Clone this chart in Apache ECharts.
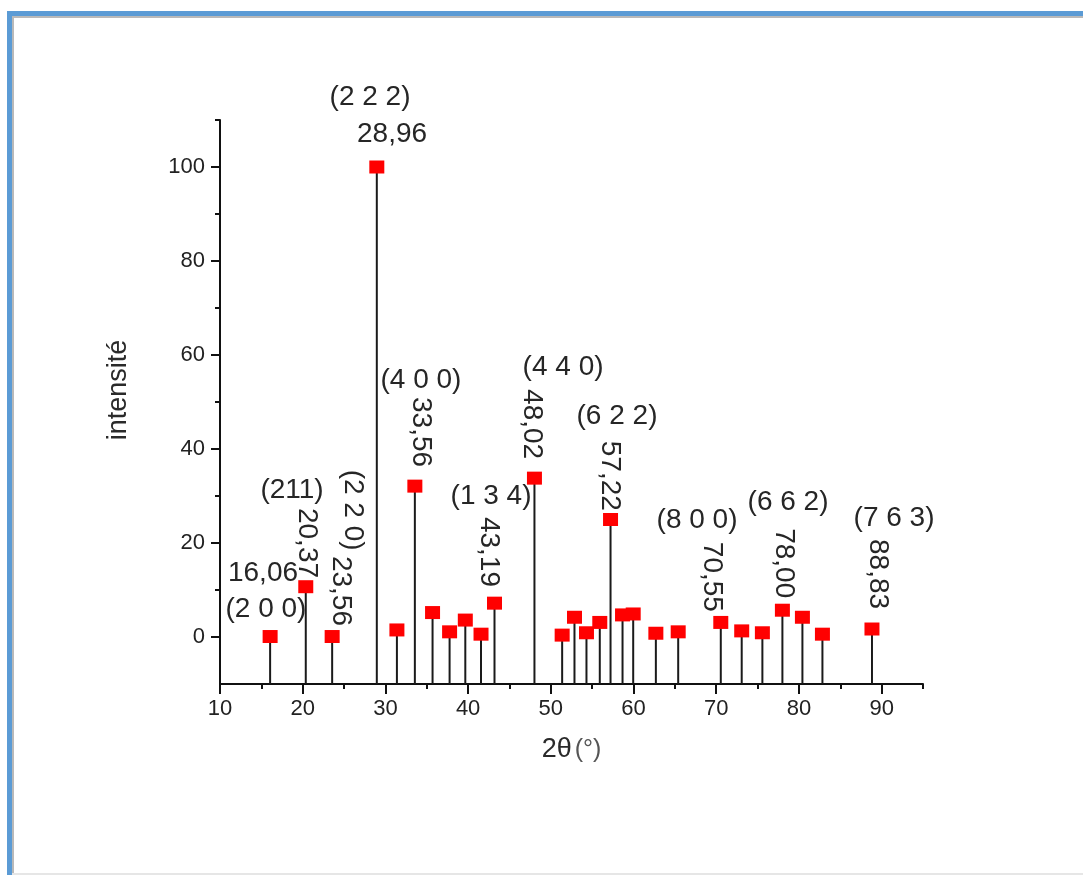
<!DOCTYPE html>
<html>
<head>
<meta charset="utf-8">
<title>intensité — 2θ</title>
<script src="https://cdn.jsdelivr.net/npm/echarts@6/dist/echarts.min.js"></script>
<style>
  html, body { margin: 0; padding: 0; background: #ffffff; }
  #chart { width: 1083px; height: 875px; }
</style>
</head>
<body>
<div id="chart"></div>
<script>
// Diffraction peaks: position 2θ (°) and relative intensity
const twoTheta = [16.06, 20.37, 23.56, 28.96, 31.39, 33.56, 35.70, 37.76, 39.66, 41.56,
                  43.19, 48.02, 51.37, 52.86, 54.31, 55.92, 57.22, 58.67, 59.96, 62.70,
                  65.40, 70.55, 73.08, 75.58, 78.00, 80.42, 82.84, 88.83];
const intensity = [0.1, 10.7, 0.1, 100, 1.5, 32.1, 5.2, 1.1, 3.6, 0.6,
                   7.2, 33.8, 0.4, 4.2, 0.9, 3.1, 25.0, 4.7, 4.9, 0.8,
                   1.1, 3.1, 1.3, 0.9, 5.7, 4.2, 0.6, 1.7];

// Axis ticks
const xMajorTicks = [10, 20, 30, 40, 50, 60, 70, 80, 90];
const xMinorTicks = [15, 25, 35, 45, 55, 65, 75, 85, 95];
const yMajorTicks = [0, 20, 40, 60, 80, 100];
const yMinorTicks = [10, 30, 50, 70, 90, 110];
const X_MIN = 10, X_MAX = 95, Y_MIN = -10, Y_MAX = 110;

// Peak annotations (Miller indices and peak positions)
const annoText = ['(2 2 2)', '28,96', '(4 0 0)', '33,56', '(211)', '20,37', '(2 2 0)', '23,56',
                  '16,06', '(2 0 0)', '(1 3 4)', '43,19', '(4 4 0)', '48,02', '(6 2 2)', '57,22',
                  '(8 0 0)', '70,55', '(6 6 2)', '78,00', '(7 6 3)', '88,83'];
// anchor of each annotation, in axis units
const annoX = [28.14, 30.80, 34.30, 34.30, 18.71, 20.52, 26.08, 24.63,
               15.20, 15.56, 42.77, 42.53, 51.48, 47.73, 58.00, 57.16,
               67.68, 69.49, 78.68, 78.20, 91.50, 89.56];
const annoY = [114.9, 107.0, 54.7, 43.6, 31.3, 20.0, 27.0, 9.8,
               13.6, 6.0, 30.0, 18.1, 57.4, 45.3, 47.0, 34.3,
               24.9, 12.8, 28.7, 15.7, 25.3, 13.4];
const annoVertical = [false, false, false, true, false, true, true, true,
                      false, false, false, true, false, true, false, true,
                      false, true, false, true, false, true];

const FONT = '"Liberation Sans", Arial, sans-serif';
const peaks = twoTheta.map((t, i) => [t, intensity[i]]);
const annotations = annoText.map((txt, i) => ({
  name: txt,
  value: [annoX[i], annoY[i]],
  label: { rotate: annoVertical[i] ? -90 : 0 }
}));

const chart = echarts.init(document.getElementById('chart'), null, { renderer: 'canvas' });

const axisLineStyle = { color: '#111', width: 2 };

chart.setOption({
  backgroundColor: '#ffffff',
  animation: false,
  grid: { left: 220, right: 160, top: 120, bottom: 191, containLabel: false },
  xAxis: [
    {
      type: 'value', min: X_MIN, max: X_MAX, interval: 10, position: 'bottom',
      name: '{a|2θ}{b|(°)}', nameLocation: 'middle', nameGap: 52,
      nameTextStyle: {
        rich: {
          a: { fontFamily: FONT, fontSize: 27, color: '#2a2a2a' },
          b: { fontFamily: FONT, fontSize: 25, color: '#555', padding: [2, 0, 0, 3] }
        }
      },
      axisLine: { show: true, onZero: false, lineStyle: axisLineStyle },
      axisTick: { show: true, length: 10, customValues: xMajorTicks, lineStyle: { color: '#111', width: 2 } },
      axisLabel: { customValues: xMajorTicks, fontFamily: FONT, fontSize: 22, color: '#222', margin: 14 },
      splitLine: { show: false }
    },
    {
      type: 'value', min: X_MIN, max: X_MAX, position: 'bottom',
      axisLine: { show: false, onZero: false },
      axisTick: { show: true, length: 5, customValues: xMinorTicks, lineStyle: { color: '#111', width: 2 } },
      axisLabel: { show: false },
      splitLine: { show: false }
    }
  ],
  yAxis: [
    {
      type: 'value', min: Y_MIN, max: Y_MAX, position: 'left',
      name: 'intensité', nameLocation: 'middle', nameGap: 88, nameRotate: 90,
      nameTextStyle: { fontFamily: FONT, fontSize: 27, color: '#2a2a2a', padding: [0, 0, 0, 24] },
      axisLine: { show: true, onZero: false, lineStyle: axisLineStyle },
      axisTick: { show: true, length: 9, customValues: yMajorTicks, lineStyle: { color: '#111', width: 2 } },
      axisLabel: { customValues: yMajorTicks, fontFamily: FONT, fontSize: 22, color: '#222', margin: 15 },
      splitLine: { show: false }
    },
    {
      type: 'value', min: Y_MIN, max: Y_MAX, position: 'left',
      axisLine: { show: false, onZero: false },
      axisTick: { show: true, length: 5, customValues: yMinorTicks, lineStyle: { color: '#111', width: 2 } },
      axisLabel: { show: false },
      splitLine: { show: false }
    }
  ],
  series: [
    {
      // vertical stems from the bottom of the axis up to each peak
      type: 'custom',
      xAxisIndex: 0, yAxisIndex: 0,
      data: peaks,
      renderItem: function (params, api) {
        const x = api.value(0);
        const p0 = api.coord([x, Y_MIN]);
        const p1 = api.coord([x, api.value(1)]);
        return {
          type: 'line',
          shape: { x1: p0[0], y1: p0[1], x2: p1[0], y2: p1[1] },
          style: { stroke: '#1a1a1a', lineWidth: 2 }
        };
      },
      z: 2
    },
    {
      type: 'scatter',
      xAxisIndex: 0, yAxisIndex: 0,
      data: peaks,
      symbol: 'rect',
      symbolSize: [15, 13],
      itemStyle: { color: '#ff0000', opacity: 1 },
      z: 3
    },
    {
      type: 'scatter',
      xAxisIndex: 0, yAxisIndex: 0,
      data: annotations,
      clip: false,
      symbolSize: 1,
      itemStyle: { color: 'rgba(0,0,0,0)', opacity: 1 },
      silent: true,
      label: {
        show: true, position: 'inside', formatter: '{b}',
        fontFamily: FONT, fontSize: 28, color: '#262626', opacity: 1,
        align: 'center', verticalAlign: 'middle'
      },
      z: 4
    }
  ],
  graphic: [
    // window frame: blue bars on the top and left with a thin shadow
    { type: 'rect', shape: { x: 12, y: 16, width: 1071, height: 2 }, style: { fill: '#b9b9b9' }, silent: true },
    { type: 'rect', shape: { x: 12, y: 16, width: 2, height: 859 }, style: { fill: '#b9b9b9' }, silent: true },
    { type: 'rect', shape: { x: 7, y: 11, width: 1076, height: 5 }, style: { fill: '#5b9bd5' }, silent: true },
    { type: 'rect', shape: { x: 7, y: 11, width: 5, height: 864 }, style: { fill: '#5b9bd5' }, silent: true },
    { type: 'rect', shape: { x: 12, y: 873, width: 1071, height: 2 }, style: { fill: '#e6e6e6' }, silent: true }
  ]
});
</script>
</body>
</html>
